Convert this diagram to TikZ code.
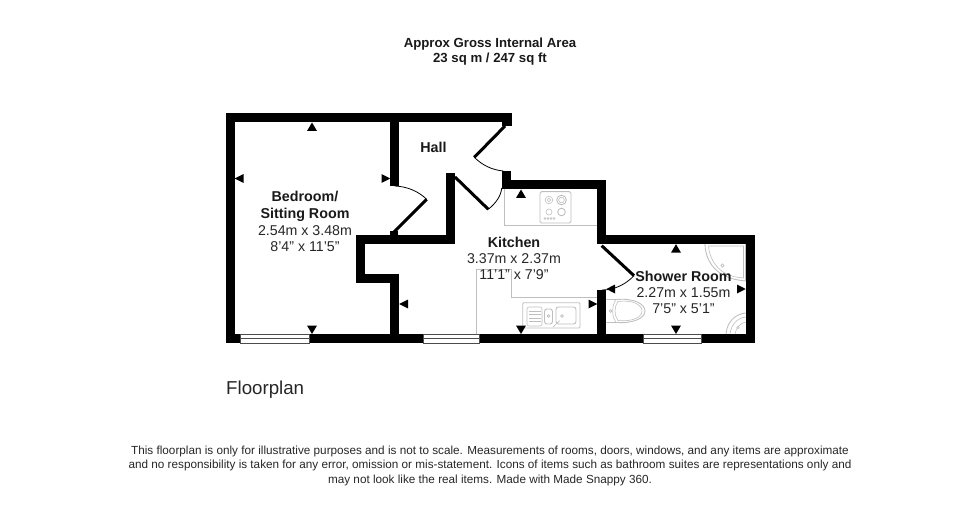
\documentclass[tikz,border=0pt]{standalone}
\usepackage{fontspec}
\setmainfont{Liberation Sans}
\tikzset{
  wall/.style={black, line width=9pt, line cap=butt, line join=miter},
  leaf/.style={black, line width=3pt},
  swing/.style={black, line width=0.8pt},
  fitting/.style={draw=black!25, line width=0.9pt},
  fittingthin/.style={draw=black!25, line width=0.6pt},
  windowpane/.style={draw=black!70, fill=white, line width=0.7pt},
  roomtitle/.style={font=\bfseries\fontsize{14.3}{16.6}\selectfont, align=center, inner sep=0pt, text=black!90},
  roomsize/.style={font=\fontsize{14.2}{16.2}\selectfont, align=center, inner sep=0pt, text=black!85},
  headnote/.style={font=\bfseries\fontsize{13.2}{15}\selectfont, align=center, inner sep=0pt, text=black!90},
  footnote/.style={font=\fontsize{11.73}{14.5}\selectfont, align=center, inner sep=0pt, text=black!85}
}
\begin{document}
\begin{tikzpicture}[x=1pt,y=-1pt]
\useasboundingbox (0,0) rectangle (980,505);
\draw [wall] (511.5,118) -- (230,118) -- (230,338.8) -- (602,338.8);
\draw [wall] (394.7,118) -- (394.7,186);
\draw [wall] (450,173) -- (450,239.5) -- (360.2,239.5) -- (360.2,278.8) -- (394.7,278.8) -- (394.7,338.8);
\draw [wall] (506.5,171) -- (506.5,184.8) -- (601.8,184.8) -- (601.8,244);
\draw [wall] (597.3,239.5) -- (750.2,239.5) -- (750.2,338.8) -- (597.3,338.8);
\draw [wall] (601.8,290) -- (601.8,343.3);
\fill [black] (501.5,118) rectangle (511.5,126.5);
\fill [black] (390,231) rectangle (398,236);
\draw [windowpane] (240,334.2) rectangle (309.5,343.3);
\draw [windowpane] (240,338.8) -- (309.5,338.8);
\draw [windowpane] (423.7,334.2) rectangle (479,343.3);
\draw [windowpane] (423.7,338.8) -- (479,338.8);
\draw [windowpane] (643.3,334.2) rectangle (701,343.3);
\draw [windowpane] (643.3,338.8) -- (701,338.8);
\draw [leaf] (393,233) -- (426.7,199.3);
\draw [swing] (394.7,186) .. controls (407,186.5) and (418,191) .. (426.7,199.3);
\draw [leaf] (505,126) -- (474.3,157.3);
\draw [swing] (474.3,157.3) .. controls (482,165) and (492,170) .. (503.3,171);
\draw [leaf] (455,177) -- (488.3,209.3);
\draw [swing] (488.3,209.3) .. controls (496,203) and (501,196) .. (501.7,188);
\draw [leaf] (601.7,245.7) -- (634,275.7);
\draw [swing] (634,275.7) .. controls (626,284) and (615,290) .. (602,290);
\draw [fitting] (504,189.3) -- (504,225.7) -- (597.3,225.7);
\draw [fitting] (476,334) -- (476,269) -- (511.7,269) -- (511.7,297.3) -- (597.3,297.3);
\draw [fitting, rounded corners=1.5pt] (540,191.7) rectangle (571,223);
\draw [fittingthin] (549,200) circle (3.8);
\draw [fittingthin] (549,200) circle (1.8);
\draw [fitting] (561.5,200) circle (4.8);
\draw [fittingthin] (561.5,200) circle (2.8);
\draw [fittingthin] (549,212) circle (3);
\draw [fitting] (561.5,212) circle (3.8);
\draw [fittingthin] (545,218.5) circle (1);
\draw [fittingthin] (548,218.5) circle (1);
\draw [fittingthin] (551,218.5) circle (1);
\draw [fittingthin] (554,218.5) circle (1);
\draw [fitting, rounded corners=1pt] (522.7,302.7) rectangle (580,328);
\draw [fittingthin, rounded corners=2pt] (527,307) rectangle (542,326);
\draw [fittingthin] (529,311) -- (541,311);
\draw [fittingthin] (529,314.5) -- (541,314.5);
\draw [fittingthin] (529,318) -- (541,318);
\draw [fittingthin] (529,321.5) -- (541,321.5);
\draw [fitting, rounded corners=2.5pt] (544.5,309) rectangle (552.5,324);
\draw [fittingthin] (548.5,316) circle (1.4);
\draw [fitting, rounded corners=2.5pt] (556,307) rectangle (576,324);
\draw [fittingthin] (562,316) circle (1.4);
\draw [fittingthin] (553,327) -- (560,320.5);
\draw [fitting] (606.3,299.5) -- (617,299.5) .. controls (634,298) and (645,304) .. (645,311) .. controls (645,318) and (634,323.5) .. (617,322.5) -- (606.3,322.5);
\draw [fittingthin] (618,301.5) .. controls (633,299.5) and (642,305) .. (642,311) .. controls (642,317) and (633,322) .. (618,320.5) .. controls (614,315) and (614,307) .. (618,301.5);
\draw [fittingthin] (616,299.5) .. controls (611.5,306) and (611.5,316) .. (616,322.5);
\draw [fittingthin] (610.5,311) circle (1.4);
\draw [fitting] (705,244) .. controls (705,257) and (712,268) .. (720,273) .. controls (728,278) and (735,280) .. (745.7,281);
\draw [fitting] (745.7,244) -- (745.7,281);
\draw [fittingthin] (708.5,246) .. controls (709,257) and (716,268) .. (724,272.5) .. controls (731,276.5) and (737,277.5) .. (743.5,278) -- (743.5,246) -- cycle;
\draw [fittingthin] (722.5,265.5) circle (1.6);
\draw [fitting] (726,334) .. controls (727,322) and (735,314) .. (745.7,313);
\draw [fittingthin] (730,334) .. controls (731,325) and (737,318) .. (745.7,317);
\draw [fittingthin] (735,334) .. controls (736,328) and (740,323) .. (745.7,322);
\draw [fittingthin] (738,327.5) circle (1.2);
\fill [black] (312,122.5) -- (307,131) -- (317,131) -- cycle;
\fill [black] (234.5,178.5) -- (243.5,174) -- (243.5,183) -- cycle;
\fill [black] (390.2,178.5) -- (381.5,174) -- (381.5,183) -- cycle;
\fill [black] (312,334) -- (307,325.5) -- (317,325.5) -- cycle;
\fill [black] (521,189.5) -- (516,198) -- (526,198) -- cycle;
\fill [black] (399.2,304) -- (408,299.5) -- (408,308.5) -- cycle;
\fill [black] (597.3,304) -- (588.5,299.5) -- (588.5,308.5) -- cycle;
\fill [black] (521,334) -- (516,325.5) -- (526,325.5) -- cycle;
\fill [black] (676,244.2) -- (671,252.7) -- (681,252.7) -- cycle;
\fill [black] (606.4,289) -- (615,284.5) -- (615,293.5) -- cycle;
\fill [black] (745.7,289) -- (737,284.5) -- (737,293.5) -- cycle;
\fill [black] (676,334) -- (671,325.5) -- (681,325.5) -- cycle;
\node [headnote] (areanote) at (490,51.5) {Approx Gross Internal Area\\23 sq m / 247 sq ft};
\node [roomtitle] (bedroom) at (305,206.5) {Bedroom/\\Sitting Room};
\node [roomsize] (bedroomsize) at (305,239) {2.54m x 3.48m\\8'4" x 11'5"};
\node [roomtitle] (hall) at (433.5,147) {Hall};
\node [roomtitle] (kitchen) at (514,242.5) {Kitchen};
\node [roomsize] (kitchensize) at (514,266.5) {3.37m x 2.37m\\11'1" x 7'9"};
\node [roomtitle] (shower) at (683.5,276) {Shower Room};
\node [roomsize] (showersize) at (683.5,301) {2.27m x 1.55m\\7'5" x 5'1"};
\node [anchor=west, inner sep=0pt, font=\fontsize{18.7}{22}\selectfont, text=black!85] (plantitle) at (226,389.5) {Floorplan};
\node [footnote] (disclaimer) at (490,465.5) {This floorplan is only for illustrative purposes and is not to scale. Measurements of rooms, doors, windows, and any items are approximate\\and no responsibility is taken for any error, omission or mis-statement. Icons of items such as bathroom suites are representations only and\\may not look like the real items. Made with Made Snappy 360.};
\end{tikzpicture}
\end{document}
